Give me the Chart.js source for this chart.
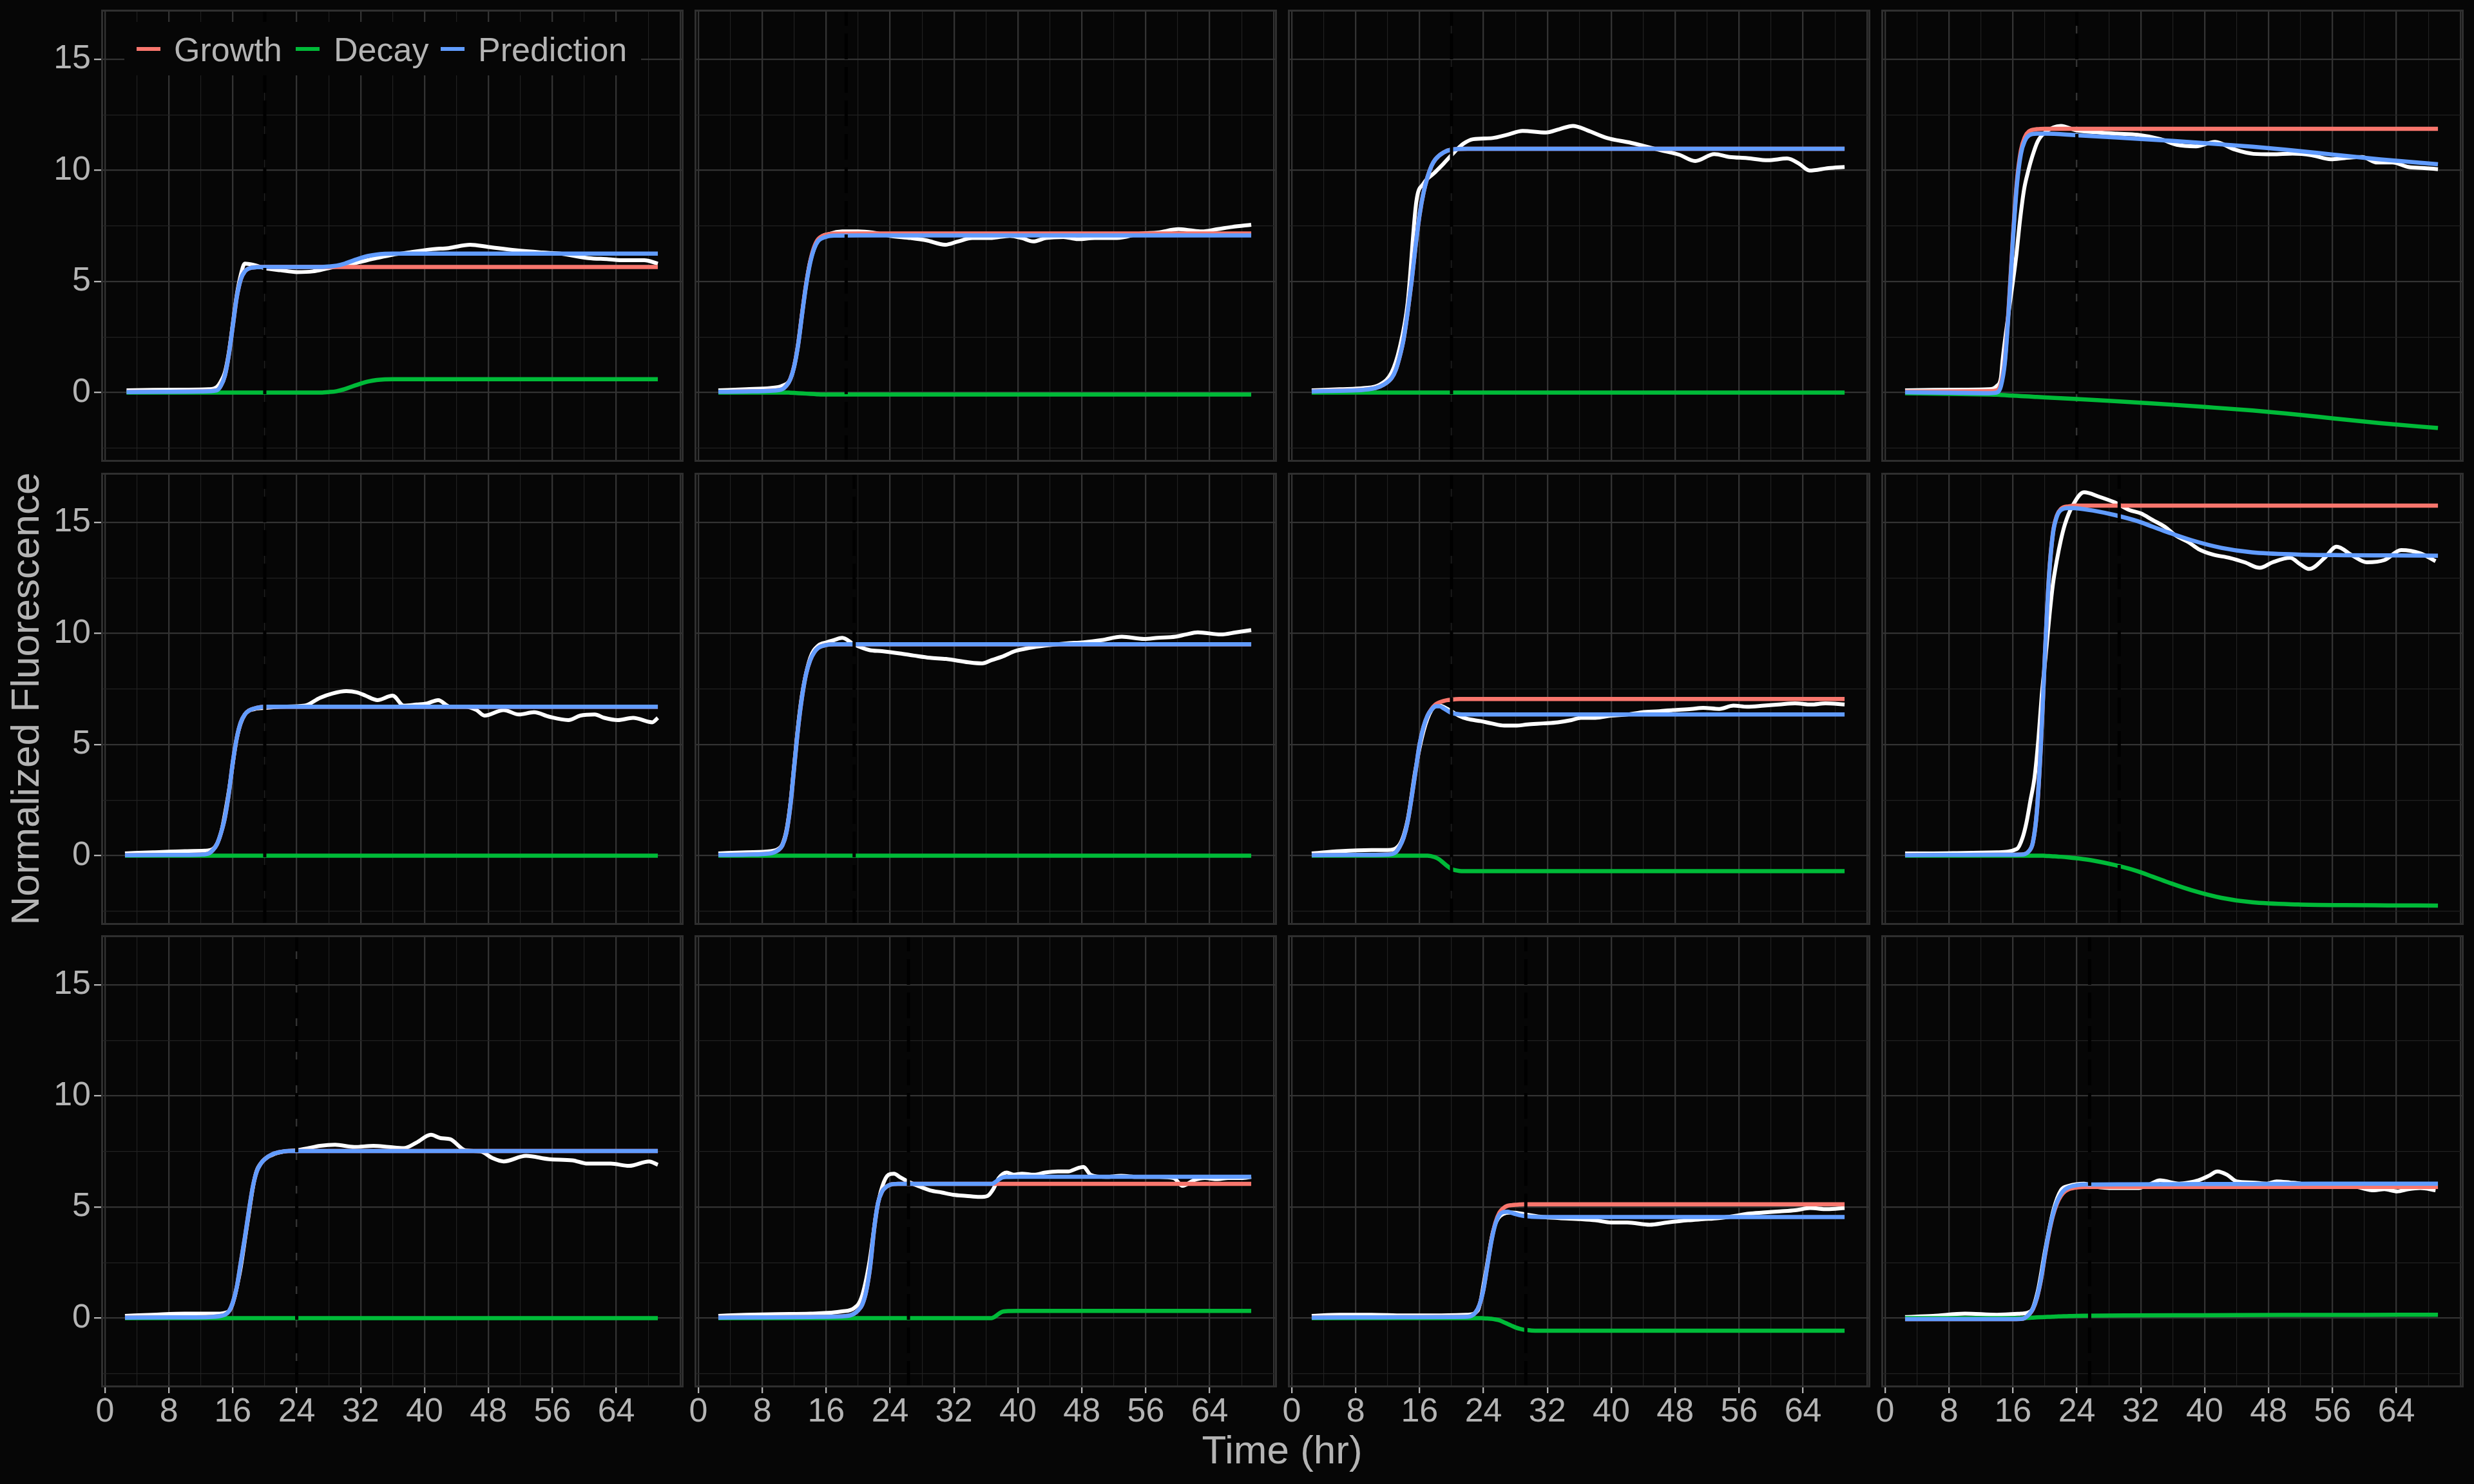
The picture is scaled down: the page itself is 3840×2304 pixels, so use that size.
<!DOCTYPE html>
<html>
<head>
<meta charset="utf-8">
<script src="https://cdn.jsdelivr.net/npm/chart.js@4.4.0/dist/chart.umd.min.js"></script>
<style>
html,body{margin:0;padding:0;background:#060606;width:3840px;height:2304px;overflow:hidden;font-family:"Liberation Sans",Arial,sans-serif;}
canvas{position:absolute;}
.frame{position:absolute;border:3px solid #2f2f2f;box-sizing:border-box;pointer-events:none;}
.txt{position:absolute;color:#b4b4b4;white-space:nowrap;}
.legbox{position:absolute;background:#060606;}
.legline{position:absolute;height:6px;width:37px;}
</style>
</head>
<body>
<script>
// ---------------- DATA ----------------
const seriesNames = ['Growth', 'Decay', 'Prediction'];
const xTickLabels = [0, 8, 16, 24, 32, 40, 48, 56, 64];
const yTickLabels = [0, 5, 10, 15];
const cutoffTimes = [20, 18.5, 20, 24, 20, 19.5, 20, 29.3, 24, 26.3, 29.3, 25.6];

// Panel A (row 1, col 1)
const tA = [2.7, 8, 12, 14, 14.5, 15, 15.5, 16, 16.5, 17, 17.5, 18, 19, 20, 27, 28, 29, 30, 31, 32, 33, 34, 35, 36, 40, 50, 60, 69.2];
const gA = [0.02, 0.03, 0.05, 0.1, 0.3, 0.75, 1.7, 3.0, 4.3, 5.1, 5.45, 5.58, 5.64, 5.65, 5.65, 5.65, 5.65, 5.65, 5.65, 5.65, 5.65, 5.65, 5.65, 5.65, 5.65, 5.65, 5.65, 5.65];
const dA = [0, 0, 0, 0, 0, 0, 0, 0, 0, 0, 0, 0, 0, 0, 0, 0.02, 0.06, 0.15, 0.28, 0.4, 0.5, 0.56, 0.59, 0.6, 0.6, 0.6, 0.6, 0.6];
const pA = [0.02, 0.03, 0.05, 0.1, 0.3, 0.75, 1.7, 3.0, 4.3, 5.1, 5.45, 5.58, 5.64, 5.65, 5.65, 5.67, 5.71, 5.8, 5.93, 6.05, 6.15, 6.21, 6.24, 6.25, 6.25, 6.25, 6.25, 6.25];
const oTA = [2.7, 6, 10, 13, 14, 14.5, 15, 15.5, 16, 16.5, 17, 17.5, 18.5, 20, 22, 24, 26, 28, 31, 34, 36, 38, 41, 43, 45.7, 48, 51.4, 54.8, 57, 60.5, 63, 65, 67.5, 69.2];
const oA = [0.1, 0.12, 0.13, 0.15, 0.25, 0.5, 0.9, 1.8, 3.1, 4.4, 5.3, 5.8, 5.75, 5.6, 5.5, 5.42, 5.45, 5.6, 5.8, 6.05, 6.2, 6.3, 6.45, 6.5, 6.65, 6.55, 6.4, 6.3, 6.25, 6.05, 6.0, 5.95, 5.95, 5.8];

// Panel B (row 1, col 2)
const tB = [2.5, 6, 9, 10.5, 11, 11.5, 12, 12.5, 13, 13.5, 14, 14.5, 15, 16, 17, 20, 30, 40, 50, 60, 69.2];
const gB = [0.03, 0.05, 0.08, 0.15, 0.3, 0.6, 1.2, 2.2, 3.6, 4.9, 5.9, 6.55, 6.9, 7.1, 7.15, 7.16, 7.16, 7.16, 7.16, 7.16, 7.16];
const dB = [0, 0, 0, 0, 0, -0.01, -0.02, -0.03, -0.04, -0.05, -0.06, -0.07, -0.08, -0.09, -0.09, -0.09, -0.09, -0.09, -0.09, -0.09, -0.09];
const pB = [0.03, 0.05, 0.08, 0.15, 0.3, 0.59, 1.18, 2.17, 3.56, 4.85, 5.84, 6.48, 6.82, 7.01, 7.06, 7.07, 7.07, 7.07, 7.07, 7.07, 7.07];
const oTB = [2.5, 6, 9, 10.5, 11.5, 12, 12.5, 13, 13.5, 14, 15, 16.5, 18, 20, 21.8, 24, 26.6, 28.5, 30.9, 32.5, 34.3, 36.5, 39, 40.5, 41.9, 43.5, 45.7, 47.5, 49.6, 52.4, 55.3, 57.5, 60.1, 61.5, 63, 65, 66.8, 69.2];
const oB = [0.1, 0.15, 0.2, 0.3, 0.6, 1.2, 2.2, 3.6, 4.9, 5.9, 6.85, 7.15, 7.25, 7.25, 7.2, 7.05, 6.95, 6.85, 6.65, 6.8, 6.95, 6.95, 7.05, 6.95, 6.8, 6.95, 7.0, 6.9, 6.95, 6.95, 7.15, 7.2, 7.35, 7.3, 7.25, 7.35, 7.45, 7.55];

// Panel C (row 1, col 3)
const tC = [2.5, 6, 9, 10.5, 11.5, 12.5, 13, 13.5, 14, 14.5, 15, 15.5, 16, 16.5, 17, 17.5, 18, 19, 20, 22, 30, 40, 50, 60, 69.2];
const gC = [0.05, 0.08, 0.12, 0.2, 0.35, 0.65, 1.0, 1.6, 2.4, 3.6, 5.0, 6.6, 8.0, 9.0, 9.7, 10.2, 10.5, 10.8, 10.93, 10.97, 10.97, 10.97, 10.97, 10.97, 10.97];
const dC = [0, 0, 0, 0, 0, 0, 0, 0, 0, 0, 0, 0, 0, 0, 0, 0, 0, 0, 0, 0, 0, 0, 0, 0, 0];
const pC = [0.05, 0.08, 0.12, 0.2, 0.35, 0.65, 1.0, 1.6, 2.4, 3.6, 5.0, 6.6, 8.0, 9.0, 9.7, 10.2, 10.5, 10.8, 10.93, 10.97, 10.97, 10.97, 10.97, 10.97, 10.97];
const oTC = [2.5, 6, 9, 11, 12.5, 13.5, 14.5, 15.6, 16.5, 17.9, 19, 20.3, 21.5, 22.7, 25.1, 27, 28.9, 31.8, 33.5, 35.2, 37, 39.5, 42.3, 44, 46.2, 48.5, 50.5, 52.9, 54.8, 57, 59.6, 62, 63.5, 64.8, 67.2, 69.2];
const oC = [0.1, 0.15, 0.2, 0.35, 0.9, 2.0, 4.0, 8.6, 9.4, 9.9, 10.3, 10.8, 11.2, 11.4, 11.45, 11.6, 11.77, 11.7, 11.85, 12.0, 11.8, 11.45, 11.25, 11.1, 10.9, 10.7, 10.42, 10.73, 10.6, 10.55, 10.45, 10.53, 10.3, 9.99, 10.1, 10.15];

// Panel D (row 1, col 4)
const tD = [2.5, 8, 13, 14, 14.5, 15, 15.5, 16, 16.5, 17, 17.5, 18, 19, 20, 24, 28, 32, 36, 40, 46, 50, 56, 62, 69.2];
const gD = [0.04, 0.05, 0.06, 0.1, 0.4, 1.5, 4.0, 7.0, 9.5, 10.9, 11.5, 11.75, 11.85, 11.87, 11.87, 11.87, 11.87, 11.87, 11.87, 11.87, 11.87, 11.87, 11.87, 11.87];
const dD = [-0.03, -0.06, -0.09, -0.1, -0.11, -0.12, -0.13, -0.14, -0.15, -0.16, -0.17, -0.18, -0.2, -0.22, -0.29, -0.37, -0.46, -0.55, -0.65, -0.81, -0.94, -1.16, -1.38, -1.6];
const pD = [0.01, -0.01, -0.03, 0.0, 0.29, 1.38, 3.87, 6.86, 9.35, 10.74, 11.33, 11.57, 11.65, 11.65, 11.58, 11.5, 11.41, 11.32, 11.22, 11.06, 10.93, 10.71, 10.49, 10.27];
const oTD = [2.5, 6, 10, 13, 14, 14.5, 14.7, 15.5, 16.4, 16.9, 17.4, 17.9, 18.4, 19.1, 20, 22, 23.9, 26.8, 29, 31.6, 34.5, 36.5, 38.9, 41.3, 43.7, 46.1, 48.5, 51, 53.4, 55.8, 57.5, 59.7, 61.6, 63.5, 65.5, 67.5, 69.2];
const oD = [0.1, 0.12, 0.13, 0.15, 0.3, 0.67, 1.44, 3.7, 6.1, 7.8, 9.15, 9.95, 10.6, 11.3, 11.7, 12.0, 11.8, 11.7, 11.65, 11.6, 11.4, 11.15, 11.08, 11.28, 10.94, 10.74, 10.72, 10.75, 10.68, 10.5, 10.55, 10.6, 10.35, 10.35, 10.15, 10.1, 10.05];

// Panel E (row 2, col 1)
const tE = [2.5, 8, 12, 13, 13.5, 14, 14.5, 15, 15.5, 16, 16.5, 17, 17.5, 18, 19, 20, 30, 40, 50, 60, 69.2];
const gE = [0.02, 0.03, 0.05, 0.1, 0.25, 0.5, 1.0, 1.7, 2.8, 4.2, 5.3, 6.0, 6.35, 6.52, 6.65, 6.7, 6.7, 6.7, 6.7, 6.7, 6.7];
const dE = [0, 0, 0, 0, 0, 0, 0, 0, 0, 0, 0, 0, 0, 0, 0, 0, 0, 0, 0, 0, 0];
const pE = [0.02, 0.03, 0.05, 0.1, 0.25, 0.5, 1.0, 1.7, 2.8, 4.2, 5.3, 6.0, 6.35, 6.52, 6.65, 6.7, 6.7, 6.7, 6.7, 6.7, 6.7];
const oTE = [2.5, 6, 10, 12.5, 13.5, 14.5, 15.5, 16.5, 17.5, 18.8, 20.2, 22, 25, 26.9, 28.5, 30.2, 31.5, 32.6, 34.1, 36, 37.4, 39, 40.3, 41.7, 43.2, 45.1, 46.5, 47.5, 49.9, 51.8, 53.7, 55.6, 58, 59.5, 61.3, 62.5, 64.2, 66.1, 68.5, 69.2];
const oE = [0.1, 0.15, 0.2, 0.22, 0.3, 1.0, 2.9, 5.3, 6.35, 6.6, 6.65, 6.7, 6.75, 7.1, 7.3, 7.4, 7.35, 7.2, 7.0, 7.2, 6.75, 6.8, 6.85, 7.0, 6.7, 6.7, 6.55, 6.3, 6.55, 6.35, 6.45, 6.25, 6.1, 6.3, 6.35, 6.2, 6.1, 6.2, 6.0, 6.2];

// Panel F (row 2, col 2)
const tF = [2.5, 6, 9, 9.5, 10, 10.5, 11, 11.5, 12, 12.5, 13, 13.5, 14, 14.5, 15, 16, 17, 20, 30, 40, 50, 60, 69.2];
const gF = [0.03, 0.05, 0.1, 0.15, 0.25, 0.45, 1.0, 2.2, 4.0, 5.8, 7.2, 8.2, 8.8, 9.15, 9.35, 9.48, 9.51, 9.51, 9.51, 9.51, 9.51, 9.51, 9.51];
const dF = [0, 0, 0, 0, 0, 0, 0, 0, 0, 0, 0, 0, 0, 0, 0, 0, 0, 0, 0, 0, 0, 0, 0];
const pF = [0.03, 0.05, 0.1, 0.15, 0.25, 0.45, 1.0, 2.2, 4.0, 5.8, 7.2, 8.2, 8.8, 9.15, 9.35, 9.48, 9.51, 9.51, 9.51, 9.51, 9.51, 9.51, 9.51];
const oTF = [2.5, 6, 9, 10, 10.5, 11, 11.5, 12, 12.5, 13, 14, 15, 16.1, 17, 18, 19.5, 21.4, 23, 25.2, 27, 29, 31, 33.8, 35.5, 36.7, 38, 39.6, 41.5, 43.4, 46, 48.2, 50.5, 53, 55.8, 57.5, 59.7, 61, 62.5, 65.4, 67.3, 69.2];
const oF = [0.1, 0.15, 0.2, 0.3, 0.5, 1.1, 2.3, 4.1, 5.9, 7.3, 8.9, 9.45, 9.6, 9.7, 9.8, 9.5, 9.25, 9.2, 9.1, 9.0, 8.9, 8.85, 8.7, 8.65, 8.8, 8.95, 9.2, 9.35, 9.45, 9.55, 9.6, 9.7, 9.85, 9.75, 9.8, 9.85, 9.95, 10.05, 9.95, 10.05, 10.15];

// Panel G (row 2, col 3)
const tG = [2.5, 8, 12, 13, 13.5, 14, 14.5, 15, 15.5, 16, 16.5, 17, 17.5, 18, 18.5, 19, 19.5, 20, 20.5, 21, 21.5, 22, 30, 40, 50, 60, 69.2];
const gG = [0.02, 0.03, 0.05, 0.15, 0.4, 0.8, 1.5, 2.6, 3.8, 5.0, 5.8, 6.3, 6.6, 6.8, 6.9, 6.96, 7.0, 7.02, 7.04, 7.05, 7.05, 7.05, 7.05, 7.05, 7.05, 7.05, 7.05];
const dG = [0, 0, 0, 0, 0, 0, 0, 0, 0, 0, 0, 0, -0.03, -0.08, -0.18, -0.33, -0.48, -0.6, -0.66, -0.69, -0.7, -0.7, -0.7, -0.7, -0.7, -0.7, -0.7];
const pG = [0.02, 0.03, 0.05, 0.15, 0.4, 0.8, 1.5, 2.6, 3.8, 5.0, 5.8, 6.3, 6.57, 6.72, 6.72, 6.63, 6.52, 6.42, 6.38, 6.36, 6.35, 6.35, 6.35, 6.35, 6.35, 6.35, 6.35];
const oTG = [2.5, 6, 10, 12, 13.5, 14.5, 15.5, 16.5, 17.5, 18.5, 19.5, 20.9, 22, 23.7, 25, 26.6, 28, 29.5, 31.5, 33.3, 35, 36.2, 38, 40, 42, 43.8, 46, 47.7, 50, 51.5, 53.5, 55.3, 57, 59.1, 61, 63, 65, 66.8, 69.2];
const oG = [0.1, 0.2, 0.25, 0.25, 0.5, 1.6, 3.9, 5.6, 6.55, 6.75, 6.6, 6.3, 6.15, 6.05, 5.95, 5.85, 5.85, 5.9, 5.95, 6.0, 6.1, 6.2, 6.2, 6.3, 6.35, 6.45, 6.5, 6.55, 6.6, 6.65, 6.6, 6.75, 6.7, 6.75, 6.8, 6.85, 6.8, 6.85, 6.8];

// Panel H (row 2, col 4)
const tH = [2.5, 8, 14, 17, 18, 18.5, 19, 19.5, 20, 20.5, 21, 21.5, 22, 23, 24, 26, 28.7, 31.6, 33.5, 35.4, 38.3, 42.1, 45.9, 51.7, 57.4, 63, 69.2];
const gH = [0.02, 0.03, 0.04, 0.05, 0.2, 0.6, 2.0, 5.0, 9.0, 12.5, 14.5, 15.3, 15.6, 15.72, 15.75, 15.75, 15.75, 15.75, 15.75, 15.75, 15.75, 15.75, 15.75, 15.75, 15.75, 15.75, 15.75];
const dH = [0, 0, 0, 0, 0, 0, 0, 0, -0.01, -0.02, -0.03, -0.04, -0.05, -0.08, -0.12, -0.22, -0.42, -0.7, -0.95, -1.2, -1.55, -1.9, -2.1, -2.2, -2.23, -2.24, -2.25];
const pH = [0.02, 0.03, 0.04, 0.05, 0.2, 0.6, 2.0, 5.0, 8.99, 12.48, 14.47, 15.26, 15.55, 15.64, 15.63, 15.53, 15.33, 15.05, 14.8, 14.55, 14.2, 13.85, 13.65, 13.55, 13.52, 13.51, 13.5];
const oTH = [2.5, 6, 10, 14, 16.5, 17.2, 17.7, 18.2, 18.7, 19.2, 19.6, 20.1, 20.6, 21.0, 21.5, 22.0, 22.5, 23.4, 24.9, 26.8, 28.7, 30.6, 32, 33.5, 35, 36.4, 38, 39.2, 41, 43.1, 45, 46.9, 48.5, 50.7, 52, 53.1, 55, 56.5, 58.5, 60.3, 62.5, 64.6, 67, 68.9];
const oH = [0.1, 0.1, 0.12, 0.15, 0.3, 0.8, 1.5, 2.5, 3.5, 5.3, 7.2, 9.0, 10.9, 12.2, 13.3, 14.2, 14.9, 15.7, 16.35, 16.15, 15.9, 15.55, 15.4, 15.1, 14.8, 14.4, 14.1, 13.8, 13.55, 13.4, 13.2, 12.95, 13.2, 13.4, 13.1, 12.9, 13.4, 13.9, 13.5, 13.2, 13.3, 13.75, 13.6, 13.25];

// Panel I (row 3, col 1)
const tI = [2.5, 8, 13, 14.5, 15, 15.5, 16, 16.5, 17, 17.5, 18, 18.5, 19, 19.5, 20, 21, 22, 23, 30, 40, 50, 60, 69.2];
const gI = [0.02, 0.03, 0.05, 0.1, 0.15, 0.3, 0.7, 1.4, 2.5, 3.6, 4.8, 5.9, 6.6, 6.95, 7.15, 7.38, 7.48, 7.52, 7.52, 7.52, 7.52, 7.52, 7.52];
const dI = [0, 0, 0, 0, 0, 0, 0, 0, 0, 0, 0, 0, 0, 0, 0, 0, 0, 0, 0, 0, 0, 0, 0];
const pI = [0.02, 0.03, 0.05, 0.1, 0.15, 0.3, 0.7, 1.4, 2.5, 3.6, 4.8, 5.9, 6.6, 6.95, 7.15, 7.38, 7.48, 7.52, 7.52, 7.52, 7.52, 7.52, 7.52];
const oTI = [2.5, 6, 10, 14, 15.5, 16.8, 17.8, 18.8, 19.7, 21, 22.5, 24, 25.5, 26.9, 28.8, 31.2, 33.6, 35.5, 37.4, 39, 40.8, 42, 43.2, 45.1, 47, 48.5, 49.9, 52.7, 55.6, 58.5, 60.4, 63.3, 65.6, 68.1, 69.2];
const oI = [0.1, 0.15, 0.2, 0.2, 0.3, 1.9, 4.2, 6.4, 7.05, 7.35, 7.5, 7.55, 7.65, 7.75, 7.8, 7.7, 7.75, 7.7, 7.65, 7.9, 8.25, 8.1, 8.05, 7.55, 7.5, 7.2, 7.05, 7.3, 7.15, 7.1, 6.95, 6.95, 6.85, 7.05, 6.9];

// Panel J (row 3, col 2)
const tJ = [2.5, 8, 14, 18, 19, 19.5, 20, 20.5, 21, 21.5, 22, 22.5, 23, 23.5, 24, 25, 30, 36, 36.7, 37, 37.4, 37.8, 38.1, 38.5, 40, 50, 60, 69.2];
const gJ = [0.02, 0.03, 0.05, 0.08, 0.12, 0.2, 0.35, 0.6, 1.2, 2.3, 4.0, 5.2, 5.7, 5.9, 6.0, 6.04, 6.04, 6.04, 6.04, 6.04, 6.04, 6.04, 6.04, 6.04, 6.04, 6.04, 6.04, 6.04];
const dJ = [0, 0, 0, 0, 0, 0, 0, 0, 0, 0, 0, 0, 0, 0, 0, 0, 0, 0, 0, 0.04, 0.14, 0.24, 0.29, 0.31, 0.32, 0.32, 0.32, 0.32];
const pJ = [0.02, 0.03, 0.05, 0.08, 0.12, 0.2, 0.35, 0.6, 1.2, 2.3, 4.0, 5.2, 5.7, 5.9, 6.0, 6.04, 6.04, 6.04, 6.04, 6.08, 6.18, 6.28, 6.33, 6.35, 6.36, 6.36, 6.36, 6.36];
const oTJ = [2.5, 6, 10, 14, 18, 19.5, 20.4, 21.4, 22.3, 23, 23.8, 24.5, 25.2, 26.2, 27.5, 29, 30.5, 31.9, 33.5, 35.2, 36.2, 36.9, 37.6, 38.6, 39.5, 40.5, 42, 43.4, 45, 46.3, 47.5, 48.2, 49.1, 51, 52.9, 55, 57.7, 59.5, 60.6, 62, 63.4, 65, 66.3, 68, 69.2];
const oJ = [0.1, 0.15, 0.18, 0.2, 0.3, 0.45, 0.9, 2.5, 4.8, 5.9, 6.45, 6.5, 6.35, 6.15, 5.95, 5.75, 5.65, 5.55, 5.5, 5.45, 5.5, 5.8, 6.3, 6.55, 6.45, 6.5, 6.45, 6.55, 6.6, 6.6, 6.75, 6.8, 6.45, 6.35, 6.4, 6.35, 6.35, 6.3, 5.95, 6.2, 6.3, 6.25, 6.3, 6.3, 6.35];

// Panel K (row 3, col 3)
const tK = [2.5, 8, 14, 20, 22, 22.5, 23, 23.5, 24, 24.5, 25, 25.5, 26, 26.5, 27, 27.5, 28, 28.5, 29, 29.5, 30, 31, 40, 50, 60, 69.2];
const gK = [0.02, 0.03, 0.04, 0.05, 0.06, 0.1, 0.25, 0.6, 1.3, 2.4, 3.5, 4.3, 4.75, 4.95, 5.05, 5.08, 5.1, 5.11, 5.12, 5.12, 5.12, 5.12, 5.12, 5.12, 5.12, 5.12];
const dK = [0, 0, 0, 0, 0, 0, 0, 0, -0.01, -0.02, -0.03, -0.06, -0.1, -0.18, -0.26, -0.34, -0.42, -0.48, -0.52, -0.54, -0.56, -0.57, -0.57, -0.57, -0.57, -0.57];
const pK = [0.02, 0.03, 0.04, 0.05, 0.06, 0.1, 0.25, 0.6, 1.29, 2.38, 3.47, 4.24, 4.65, 4.77, 4.79, 4.74, 4.68, 4.63, 4.6, 4.58, 4.56, 4.55, 4.55, 4.55, 4.55, 4.55];
const oTK = [2.5, 6, 10, 14, 18, 22, 23.3, 24.2, 25.2, 26.1, 27.6, 29.5, 31.4, 33.5, 36.2, 38, 40, 42, 44.8, 47, 49.6, 51.5, 53.4, 55.5, 57.2, 59, 61.1, 63, 64.9, 67, 69.2];
const oK = [0.1, 0.15, 0.15, 0.12, 0.12, 0.15, 0.35, 1.9, 3.9, 4.6, 4.75, 4.65, 4.55, 4.5, 4.45, 4.4, 4.3, 4.3, 4.2, 4.3, 4.4, 4.45, 4.5, 4.6, 4.7, 4.75, 4.8, 4.85, 4.95, 4.9, 4.95];

// Panel L (row 3, col 4)
const tL = [2.5, 8, 14, 17, 17.5, 18, 18.5, 19, 19.5, 20, 20.5, 21, 21.5, 22, 22.5, 23, 24, 25, 30, 40, 50, 60, 69.2];
const gL = [-0.05, -0.05, -0.05, -0.04, 0.0, 0.15, 0.4, 0.9, 1.7, 2.8, 3.8, 4.6, 5.15, 5.5, 5.7, 5.8, 5.88, 5.9, 5.9, 5.9, 5.9, 5.9, 5.9];
const dL = [0, 0, 0, 0, 0.005, 0.01, 0.02, 0.03, 0.04, 0.05, 0.055, 0.06, 0.07, 0.08, 0.085, 0.09, 0.1, 0.105, 0.12, 0.13, 0.14, 0.145, 0.15];
const pL = [-0.05, -0.05, -0.05, -0.04, 0.01, 0.16, 0.42, 0.93, 1.74, 2.85, 3.86, 4.66, 5.22, 5.58, 5.79, 5.89, 5.98, 6.01, 6.02, 6.03, 6.04, 6.05, 6.05];
const oTL = [2.5, 6, 10, 14, 17, 18.2, 19.1, 20.1, 21.1, 22, 23, 24.9, 26.5, 28.7, 30, 31.6, 33, 34.4, 36.8, 38, 39.2, 40.5, 41.6, 42.8, 44, 46, 47.8, 49, 50.7, 52, 53.6, 55.5, 57.4, 59, 61.2, 62.5, 64.1, 65.5, 67, 68.9];
const oL = [0.05, 0.1, 0.2, 0.15, 0.2, 0.3, 1.2, 3.2, 4.9, 5.75, 5.95, 6.05, 5.9, 5.85, 5.85, 5.85, 6.0, 6.2, 6.05, 6.1, 6.2, 6.4, 6.6, 6.45, 6.15, 6.1, 6.05, 6.15, 6.1, 6.05, 5.9, 6.0, 5.95, 5.9, 5.75, 5.8, 5.7, 5.8, 5.85, 5.75];

const panels = [
  [tA, gA, dA, pA, oTA, oA], [tB, gB, dB, pB, oTB, oB], [tC, gC, dC, pC, oTC, oC], [tD, gD, dD, pD, oTD, oD],
  [tE, gE, dE, pE, oTE, oE], [tF, gF, dF, pF, oTF, oF], [tG, gG, dG, pG, oTG, oG], [tH, gH, dH, pH, oTH, oH],
  [tI, gI, dI, pI, oTI, oI], [tJ, gJ, dJ, pJ, oTJ, oJ], [tK, gK, dK, pK, oTK, oK], [tL, gL, dL, pL, oTL, oL]
];

// ---------------- STYLE / LAYOUT ----------------
const COL_GROWTH = '#F8766D', COL_DECAY = '#00BA38', COL_PRED = '#619CFF';
const FONT = '"Liberation Sans", Arial, sans-serif';
const TXT = '#b4b4b4';
const GRID_MAJ = '#333333', GRID_MIN = '#212121';
const X_MIN = -0.4, X_MAX = 72.34, Y_MIN = -3.09, Y_MAX = 17.2;
const PW = 902, PH = 700;
const colLeft = [158, 1079, 2000, 2921];
const rowTop = [16, 735, 1453];
const xGrid = []; for (let v = 0; v <= 72; v += 4) xGrid.push(v);
const yGrid = []; for (let v = -2.5; v <= 15; v += 2.5) yGrid.push(v);

Chart.defaults.font.family = FONT;

function pts(xs, ys) { return xs.map((x, i) => ({ x: x, y: ys[i] })); }
function noPad(s) { s.paddingTop = 0; s.paddingBottom = 0; s.paddingLeft = 0; s.paddingRight = 0; }

panels.forEach((pd, i) => {
  const r = Math.floor(i / 4), c = i % 4;
  const padL = c === 0 ? 158 : 19;
  const padB = r === 2 ? 110 : 0;
  const cv = document.createElement('canvas');
  cv.width = PW + padL; cv.height = PH + padB;
  cv.style.left = (colLeft[c] - padL) + 'px';
  cv.style.top = rowTop[r] + 'px';
  cv.style.width = cv.width + 'px'; cv.style.height = cv.height + 'px';
  document.body.appendChild(cv);

  const [t, g, d, p, ot, o] = pd;
  const cut = cutoffTimes[i];
  new Chart(cv, {
    type: 'line',
    data: {
      datasets: [
        { label: 'cutoff', data: [{ x: cut, y: Y_MIN }, { x: cut, y: Y_MAX }], borderColor: '#000000', borderWidth: 5, borderDash: [40, 12], order: 0, cubicInterpolationMode: 'default', tension: 0 },
        { label: seriesNames[2], data: pts(t, p), borderColor: COL_PRED, borderWidth: 6.5, order: 1 },
        { label: seriesNames[1], data: pts(t, d), borderColor: COL_DECAY, borderWidth: 6.5, order: 2 },
        { label: seriesNames[0], data: pts(t, g), borderColor: COL_GROWTH, borderWidth: 6.5, order: 3 },
        { label: 'Observed', data: pts(ot, o), borderColor: '#ffffff', borderWidth: 6, order: 4 }
      ]
    },
    options: {
      responsive: false, animation: false, devicePixelRatio: 1,
      layout: { padding: 0, autoPadding: false },
      plugins: { legend: { display: false }, tooltip: { enabled: false } },
      elements: { point: { radius: 0, hoverRadius: 0 }, line: { cubicInterpolationMode: 'monotone', borderJoinStyle: 'round', borderCapStyle: 'butt', fill: false } },
      scales: {
        x: {
          type: 'linear', position: 'bottom', min: X_MIN, max: X_MAX,
          afterBuildTicks: s => { s.ticks = xGrid.map(v => ({ value: v })); },
          afterFit: s => { s.height = padB; noPad(s); },
          border: { display: false },
          grid: {
            color: ctx => (ctx.tick && ctx.tick.value % 8 === 0) ? GRID_MAJ : GRID_MIN,
            lineWidth: ctx => (ctx.tick && ctx.tick.value % 8 === 0) ? 2.3 : 1.2,
            drawTicks: r === 2, tickLength: 10, tickWidth: 2.3,
            tickColor: ctx => (ctx.tick && xTickLabels.includes(ctx.tick.value)) ? TXT : 'rgba(0,0,0,0)'
          },
          ticks: {
            display: r === 2, autoSkip: false, maxRotation: 0, minRotation: 0, padding: -2,
            color: TXT, font: { family: FONT, size: 52 },
            callback: v => xTickLabels.includes(v) ? String(v) : ''
          }
        },
        y: {
          type: 'linear', position: 'left', min: Y_MIN, max: Y_MAX,
          afterBuildTicks: s => { s.ticks = yGrid.map(v => ({ value: v })); },
          afterFit: s => { s.width = padL; noPad(s); },
          border: { display: false },
          grid: {
            color: ctx => (ctx.tick && ctx.tick.value % 5 === 0) ? GRID_MAJ : GRID_MIN,
            lineWidth: ctx => (ctx.tick && ctx.tick.value % 5 === 0) ? 2.3 : 1.2,
            drawTicks: c === 0, tickLength: 12, tickWidth: 2.3,
            tickColor: ctx => (ctx.tick && yTickLabels.includes(ctx.tick.value)) ? TXT : 'rgba(0,0,0,0)'
          },
          ticks: {
            display: c === 0, autoSkip: false, padding: 5,
            color: TXT, font: { family: FONT, size: 52 },
            callback: v => yTickLabels.includes(v) ? String(v) : ''
          }
        }
      }
    }
  });

  const fr = document.createElement('div');
  fr.className = 'frame';
  fr.style.left = (colLeft[c] - 1) + 'px'; fr.style.top = (rowTop[r] - 1) + 'px';
  fr.style.width = (PW + 2) + 'px'; fr.style.height = (PH + 2) + 'px';
  document.body.appendChild(fr);
});

// ---------------- LEGEND & AXIS TITLES ----------------
function addDiv(cls, styles, text) {
  const el = document.createElement('div');
  el.className = cls;
  Object.assign(el.style, styles);
  if (text) el.textContent = text;
  document.body.appendChild(el);
  return el;
}
addDiv('legbox', { left: '193px', top: '34px', width: '802px', height: '83px' });
const legItems = [
  { name: seriesNames[0], color: COL_GROWTH, lx: 212, tx: 270 },
  { name: seriesNames[1], color: COL_DECAY, lx: 459, tx: 518 },
  { name: seriesNames[2], color: COL_PRED, lx: 684, tx: 742 }
];
legItems.forEach(it => {
  addDiv('legline', { left: it.lx + 'px', top: '73px', background: it.color });
  addDiv('txt', { left: it.tx + 'px', top: '51px', fontSize: '52px', lineHeight: '52px' }, it.name);
});
addDiv('txt', { left: '1490px', top: '2220px', width: '1000px', textAlign: 'center', fontSize: '62px', lineHeight: '62px' }, 'Time (hr)');
addDiv('txt', { left: '-461px', top: '1054px', width: '1000px', textAlign: 'center', fontSize: '62px', lineHeight: '62px', transform: 'rotate(-90deg)' }, 'Normalized Fluorescence');
</script>
</body>
</html>
